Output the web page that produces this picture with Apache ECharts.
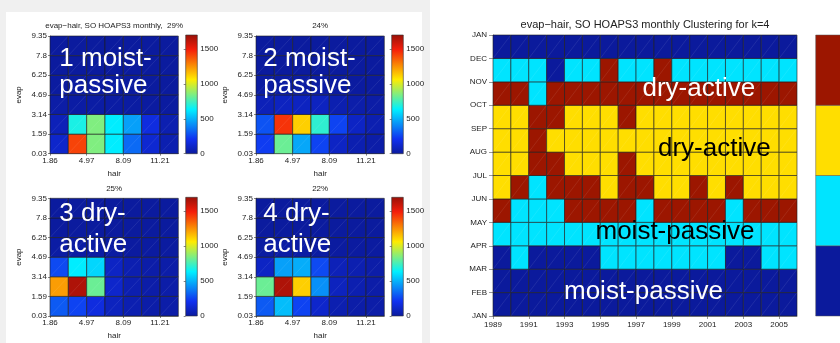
<!DOCTYPE html>
<html>
<head>
<meta charset="utf-8">
<script src="https://cdn.jsdelivr.net/npm/echarts@6/dist/echarts.min.js"></script>
<style>
  html, body { margin: 0; padding: 0; background: #f0f0f0; }
  #chart { width: 840px; height: 343px; }
</style>
</head>
<body>
<div id="chart"></div>
<script>
const FONT = '"Liberation Sans", Arial, Helvetica, sans-serif';

// ---- 2-D histograms (evap vs hair), one per cluster ----
const hairTickLabels = ['1.86', '4.97', '8.09', '11.21'];
const evapTickLabels = ['0.03', '1.59', '3.14', '4.69', '6.25', '7.8', '9.35'];
const countTicks = [0, 500, 1000, 1500];
const countMax = 1700;

// counts per bin; each row is one evap bin (lowest first), 7 hair bins per row
const cluster1Counts = [
  [120, 1410, 850, 630, 340, 135, 50],
  [70, 680, 850, 630, 460, 170, 50],
  [25, 20, 20, 20, 15, 10, 10],
  [10, 10, 10, 10, 8, 6, 5],
  [5, 5, 5, 5, 5, 5, 5],
  [5, 5, 5, 5, 5, 5, 5]
];
const cluster2Counts = [
  [240, 815, 475, 255, 100, 50, 30],
  [290, 1445, 1120, 715, 255, 100, 50],
  [70, 90, 90, 90, 50, 35, 25],
  [15, 15, 15, 15, 10, 10, 8],
  [5, 5, 5, 5, 5, 5, 5],
  [5, 5, 5, 5, 5, 5, 5]
];
const cluster3Counts = [
  [305, 255, 170, 85, 50, 30, 30],
  [1225, 1650, 815, 120, 50, 30, 30],
  [270, 630, 580, 100, 50, 30, 30],
  [20, 20, 20, 15, 10, 10, 10],
  [5, 5, 5, 5, 5, 5, 5],
  [5, 5, 5, 5, 5, 5, 5]
];
const cluster4Counts = [
  [305, 525, 255, 120, 50, 30, 30],
  [815, 1650, 1120, 425, 85, 50, 30],
  [100, 460, 490, 270, 70, 50, 30],
  [15, 20, 20, 15, 10, 10, 10],
  [5, 5, 5, 5, 5, 5, 5],
  [5, 5, 5, 5, 5, 5, 5]
];
const panelTitles = ['evap\u2212hair, SO HOAPS3 monthly,  29%', '24%', '25%', '22%'];
const panelLabels = [['1 moist-', 'passive'], ['2 moist-', 'passive'], ['3 dry-', 'active'], ['4 dry-', 'active']];

// ---- monthly cluster membership, 1989..2005 ----
const years = ['1989', '1990', '1991', '1992', '1993', '1994', '1995', '1996', '1997',
               '1998', '1999', '2000', '2001', '2002', '2003', '2004', '2005'];
const monthLabels = ['JAN', 'FEB', 'MAR', 'APR', 'MAY', 'JUN', 'JUL', 'AUG', 'SEP', 'OCT', 'NOV', 'DEC', 'JAN'];
const janCluster = [1, 1, 1, 1, 1, 1, 1, 1, 1, 1, 1, 1, 1, 1, 1, 1, 1];
const febCluster = [1, 1, 1, 1, 1, 1, 1, 1, 1, 1, 1, 1, 1, 1, 1, 1, 1];
const marCluster = [1, 2, 1, 1, 1, 1, 2, 2, 2, 2, 2, 2, 2, 1, 1, 2, 2];
const aprCluster = [2, 2, 2, 2, 2, 2, 2, 2, 2, 2, 2, 2, 2, 2, 2, 2, 2];
const mayCluster = [4, 2, 2, 2, 4, 4, 4, 4, 2, 4, 4, 4, 4, 2, 4, 4, 4];
const junCluster = [3, 4, 2, 4, 4, 4, 3, 4, 4, 3, 3, 4, 3, 4, 3, 3, 3];
const julCluster = [3, 3, 4, 4, 3, 3, 3, 4, 3, 3, 3, 3, 3, 3, 3, 3, 3];
const augCluster = [3, 3, 4, 3, 3, 3, 3, 3, 3, 3, 3, 3, 3, 3, 3, 3, 3];
const sepCluster = [3, 3, 4, 4, 3, 3, 3, 4, 3, 3, 3, 3, 3, 3, 3, 3, 3];
const octCluster = [4, 4, 2, 4, 4, 4, 4, 4, 4, 4, 4, 4, 4, 4, 4, 4, 4];
const novCluster = [2, 2, 2, 1, 2, 2, 4, 2, 2, 4, 2, 2, 2, 2, 2, 2, 2];
const decCluster = [1, 1, 1, 1, 1, 1, 1, 1, 1, 1, 1, 1, 1, 1, 1, 1, 1];
const clusterIds = [1, 2, 3, 4];
const clusterColors = ['#0b1a9c', '#00e4ff', '#ffde00', '#9c1600'];

// jet-like colour map (navy -> blue -> cyan -> yellow -> red -> dark red)
const jetStops = [
  [0, [11, 26, 156]], [0.125, [16, 48, 240]], [0.375, [0, 240, 255]],
  [0.625, [255, 235, 0]], [0.875, [245, 30, 10]], [1, [152, 16, 8]]
];
function jet(v) {
  const t = Math.max(0, Math.min(1, v / countMax));
  let i = 0;
  while (i < jetStops.length - 2 && t > jetStops[i + 1][0]) i++;
  const [t0, c0] = jetStops[i], [t1, c1] = jetStops[i + 1];
  const f = (t - t0) / (t1 - t0);
  const c = c0.map((x, k) => Math.round(x + (c1[k] - x) * f));
  return 'rgb(' + c.join(',') + ')';
}
function jetGradient() {
  const stops = [];
  for (let i = 0; i <= 40; i++) stops.push({ offset: i / 40, color: jet(countMax * (1 - i / 40)) });
  return new echarts.graphic.LinearGradient(0, 0, 0, 1, stops);
}

function cellRenderer(colorOf) {
  return function (params, api) {
    const x = api.value(0), y = api.value(1);
    const a = api.coord([x, y]);
    const b = api.coord([x + 1, y + 1]);
    return {
      type: 'group',
      children: [
        { type: 'rect', shape: { x: a[0], y: b[1], width: b[0] - a[0], height: a[1] - b[1] },
          style: { fill: colorOf(api.value(2)), stroke: '#1c1c1c', lineWidth: 0.6 } },
        { type: 'line', shape: { x1: a[0], y1: a[1], x2: b[0], y2: b[1] },
          style: { stroke: 'rgba(255,255,255,0.14)', lineWidth: 0.6 } }
      ]
    };
  };
}

const tickLabelStyle = { fontSize: 8, color: '#222', fontFamily: FONT };
const grids = [], xAxes = [], yAxes = [], series = [], texts = [];

const histCounts = [cluster1Counts, cluster2Counts, cluster3Counts, cluster4Counts];
const panelLeft = [50, 256], panelTop = [36, 198.3];
const panelW = 128.3, panelH = 117.7;
const barLeft = [185.7, 391.7], barW = 11.6;

histCounts.forEach((counts, p) => {
  const col = p % 2, row = Math.floor(p / 2);
  const gi = grids.length;
  grids.push({ left: panelLeft[col], top: panelTop[row], width: panelW, height: panelH, outerBoundsMode: 'none' });
  xAxes.push({
    gridIndex: gi, type: 'value', min: 0, max: 7, interval: 1,
    name: 'hair', nameLocation: 'middle', nameGap: 16,
    nameTextStyle: { fontSize: 8, color: '#222', fontFamily: FONT },
    axisLine: { show: true, lineStyle: { color: '#333', width: 0.6 } },
    axisTick: { show: true, length: 2, customValues: [0, 2, 4, 6], lineStyle: { color: '#333', width: 0.6 } },
    axisLabel: Object.assign({ margin: 3, customValues: [0, 2, 4, 6],
      formatter: v => hairTickLabels[v / 2] || '' }, tickLabelStyle),
    splitLine: { show: false }
  });
  yAxes.push({
    gridIndex: gi, type: 'value', min: 0, max: 6, interval: 1,
    name: 'evap', nameLocation: 'middle', nameGap: 27,
    nameTextStyle: { fontSize: 8, color: '#222', fontFamily: FONT },
    axisLine: { show: true, lineStyle: { color: '#333', width: 0.6 } },
    axisTick: { show: true, length: 2, lineStyle: { color: '#333', width: 0.6 } },
    axisLabel: Object.assign({ margin: 3, formatter: v => evapTickLabels[v] || '' }, tickLabelStyle),
    splitLine: { show: false }
  });
  const data = [];
  counts.forEach((r, yi) => r.forEach((v, xi) => data.push([xi, yi, v])));
  series.push({ type: 'custom', xAxisIndex: xAxes.length - 1, yAxisIndex: yAxes.length - 1,
    data: data, renderItem: cellRenderer(jet), silent: true, animation: false });

  // colour bar
  const bi = grids.length;
  grids.push({ left: barLeft[col], top: panelTop[row] - 1, width: barW, height: panelH + 1, outerBoundsMode: 'none' });
  xAxes.push({ gridIndex: bi, type: 'value', min: 0, max: 1, show: false });
  yAxes.push({
    gridIndex: bi, type: 'value', position: 'right', min: 0, max: countMax, interval: 500,
    axisLine: { show: false },
    axisTick: { show: true, inside: true, length: 2, customValues: countTicks, lineStyle: { color: '#333', width: 0.6 } },
    axisLabel: Object.assign({ margin: 3, customValues: countTicks, formatter: v => String(v) }, tickLabelStyle),
    splitLine: { show: false }
  });
  series.push({ type: 'custom', xAxisIndex: xAxes.length - 1, yAxisIndex: yAxes.length - 1,
    data: [[0, 0, countMax]], silent: true, animation: false,
    renderItem: (params, api) => {
      const a = api.coord([0, 0]);
      const b = api.coord([1, api.value(2)]);
      return { type: 'rect', shape: { x: a[0], y: b[1], width: b[0] - a[0], height: a[1] - b[1] },
        style: { fill: jetGradient(), stroke: '#333', lineWidth: 0.6 } };
    }
  });

  const cx = panelLeft[col] + panelW / 2;
  texts.push({ type: 'text', x: cx, y: panelTop[row] - 10, z: 100,
    style: { text: panelTitles[p], fontSize: 8, fontFamily: FONT, fill: '#222', align: 'center', verticalAlign: 'middle' } });
  texts.push({ type: 'text', x: panelLeft[col] + (col ? 7.3 : 9.3), y: panelTop[row] + (row ? 16 : 23), z: 100,
    style: { text: panelLabels[p][0], fontSize: 26, fontFamily: FONT, fill: '#fff', align: 'left', verticalAlign: 'middle' } });
  texts.push({ type: 'text', x: panelLeft[col] + (col ? 7.3 : 9.3), y: panelTop[row] + (row ? 47 : 50), z: 100,
    style: { text: panelLabels[p][1], fontSize: 26, fontFamily: FONT, fill: '#fff', align: 'left', verticalAlign: 'middle' } });
});

// ---- monthly cluster map ----
const monthRows = [janCluster, febCluster, marCluster, aprCluster, mayCluster, junCluster,
                   julCluster, augCluster, sepCluster, octCluster, novCluster, decCluster];
const mapData = [];
monthRows.forEach((r, m) => r.forEach((c, y) => mapData.push([y, m, c])));
const yearTickIdx = [0, 2, 4, 6, 8, 10, 12, 14, 16];

const mg = grids.length;
grids.push({ left: 493, top: 35, width: 304, height: 281, outerBoundsMode: 'none' });
const axisGray = { color: '#555', width: 0.6 };
xAxes.push({
  gridIndex: mg, type: 'value', min: 0, max: years.length, interval: 1,
  axisLine: { show: true, lineStyle: axisGray },
  axisTick: { show: true, length: 3, customValues: yearTickIdx, lineStyle: axisGray },
  axisLabel: Object.assign({ margin: 5, customValues: yearTickIdx, formatter: v => years[v] || '' }, tickLabelStyle),
  splitLine: { show: false }
});
const mapXIndex = xAxes.length - 1;
xAxes.push({
  gridIndex: mg, type: 'value', position: 'top', min: 0, max: years.length, interval: 1,
  axisLine: { show: false },
  axisTick: { show: true, length: 3, customValues: yearTickIdx, lineStyle: axisGray },
  axisLabel: { show: false }, splitLine: { show: false }
});
yAxes.push({
  gridIndex: mg, type: 'value', min: 0, max: 12, interval: 1,
  axisLine: { show: true, lineStyle: axisGray },
  axisTick: { show: true, length: 4, lineStyle: axisGray },
  axisLabel: Object.assign({ margin: 6, formatter: v => monthLabels[v] || '' }, tickLabelStyle),
  splitLine: { show: false }
});
const mapYIndex = yAxes.length - 1;
yAxes.push({
  gridIndex: mg, type: 'value', position: 'right', min: 0, max: 12, interval: 1,
  axisLine: { show: false },
  axisTick: { show: true, length: 3, lineStyle: { color: '#aaa', width: 0.6 } },
  axisLabel: { show: false }, splitLine: { show: false }
});
series.push({ type: 'custom', xAxisIndex: mapXIndex, yAxisIndex: mapYIndex, data: mapData,
  silent: true, animation: false,
  renderItem: cellRenderer(c => clusterColors[clusterIds.indexOf(c)]) });

// cluster colour bar
const cb = grids.length;
grids.push({ left: 815.7, top: 35, width: 30, height: 281, outerBoundsMode: 'none' });
xAxes.push({ gridIndex: cb, type: 'value', min: 0, max: 1, show: false });
yAxes.push({ gridIndex: cb, type: 'value', min: 0, max: clusterIds.length, show: false });
series.push({ type: 'custom', xAxisIndex: xAxes.length - 1, yAxisIndex: yAxes.length - 1,
  data: clusterIds.map((c, i) => [0, i, c]), silent: true, animation: false,
  renderItem: (params, api) => {
    const a = api.coord([0, api.value(1)]);
    const b = api.coord([1, api.value(1) + 1]);
    return { type: 'rect', shape: { x: a[0], y: b[1], width: b[0] - a[0], height: a[1] - b[1] },
      style: { fill: clusterColors[clusterIds.indexOf(api.value(2))], stroke: '#555', lineWidth: 0.5 } };
  }
});

texts.push({ type: 'text', x: 645, y: 25, z: 100,
  style: { text: 'evap\u2212hair, SO HOAPS3 monthly Clustering for k=4', fontSize: 11, fontFamily: FONT,
    fill: '#222', align: 'center', verticalAlign: 'middle' } });
const mapLabels = [
  { text: 'dry-active', x: 642.5, y: 89, fill: '#fff' },
  { text: 'dry-active', x: 658, y: 148.5, fill: '#000' },
  { text: 'moist-passive', x: 595.5, y: 231.5, fill: '#000' },
  { text: 'moist-passive', x: 564, y: 291.5, fill: '#fff' }
];
mapLabels.forEach(l => texts.push({ type: 'text', x: l.x, y: l.y, z: 100,
  style: { text: l.text, fontSize: 26, fontFamily: FONT, fill: l.fill, align: 'left', verticalAlign: 'middle' } }));

// page panels behind the charts
const backdrops = [
  { type: 'rect', shape: { x: 6, y: 12, width: 416, height: 331 }, style: { fill: '#fff' }, z: -100 },
  { type: 'rect', shape: { x: 430, y: 0, width: 410, height: 343 }, style: { fill: '#fff' }, z: -100 }
];

const chart = echarts.init(document.getElementById('chart'), null, { renderer: 'canvas' });
chart.setOption({
  backgroundColor: '#f0f0f0',
  animation: false,
  grid: grids,
  xAxis: xAxes,
  yAxis: yAxes,
  series: series,
  graphic: backdrops.concat(texts)
});
</script>
</body>
</html>
